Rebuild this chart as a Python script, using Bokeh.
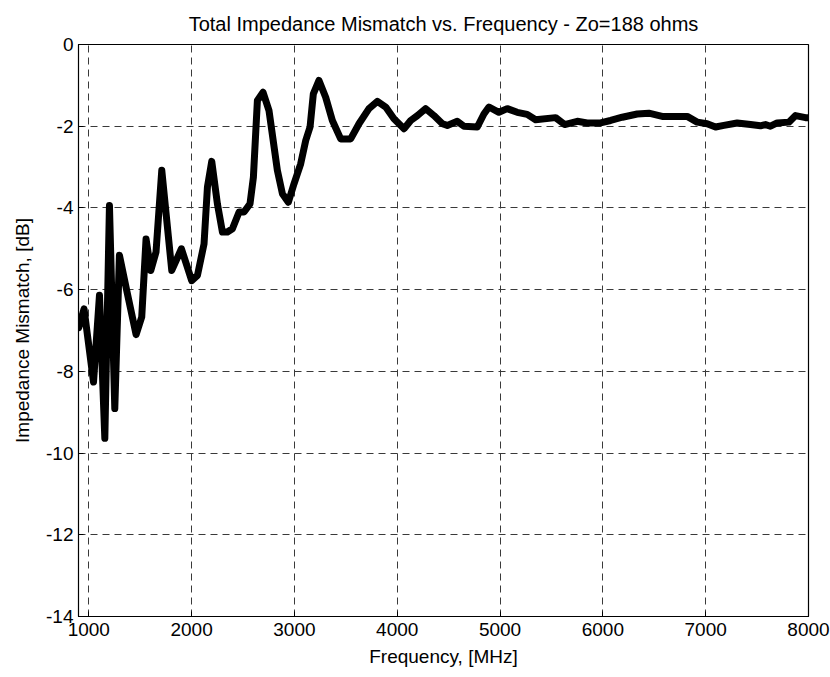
from bokeh.plotting import figure
from bokeh.models import Range1d, FixedTicker, Title, CustomJSTickFormatter
from bokeh.embed import file_html
from bokeh.resources import INLINE

# Frequency sweep, MHz
freq_mhz = [903, 954, 1046, 1104, 1156, 1201, 1253, 1298, 1369, 1460, 1515, 1557,
            1603, 1654, 1710, 1807, 1901, 2001, 2057, 2121, 2154, 2196, 2251, 2300,
            2348, 2397, 2462, 2510, 2568, 2601, 2640, 2695, 2753, 2834, 2883, 2941,
            2996, 3061, 3110, 3152, 3184, 3239, 3304, 3369, 3450, 3547, 3628, 3725,
            3807, 3888, 3968, 4066, 4131, 4196, 4276, 4357, 4439, 4487, 4584, 4649,
            4779, 4843, 4892, 4989, 5070, 5167, 5264, 5346, 5540, 5628, 5751, 5848,
            5978, 6075, 6189, 6334, 6447, 6577, 6820, 6917, 7014, 7096, 7177, 7306,
            7436, 7533, 7582, 7630, 7695, 7809, 7874, 7971, 8000]

# Total impedance mismatch, dB
mismatch_db = [-6.93, -6.47, -8.26, -6.14, -9.64, -3.94, -8.91, -5.16, -6.02, -7.10,
               -6.67, -4.76, -5.53, -5.08, -3.08, -5.53, -5.00, -5.78, -5.65, -4.88,
               -3.49, -2.86, -3.90, -4.59, -4.59, -4.51, -4.10, -4.10, -3.90, -3.25,
               -1.37, -1.17, -1.62, -3.08, -3.65, -3.86, -3.41, -2.92, -2.35, -2.02,
               -1.21, -0.88, -1.29, -1.86, -2.31, -2.31, -1.94, -1.57, -1.39, -1.53,
               -1.82, -2.06, -1.86, -1.74, -1.57, -1.74, -1.94, -1.98, -1.88, -2.00,
               -2.02, -1.70, -1.53, -1.66, -1.57, -1.66, -1.71, -1.84, -1.79, -1.96,
               -1.88, -1.92, -1.92, -1.86, -1.78, -1.70, -1.68, -1.76, -1.76, -1.90,
               -1.94, -2.02, -1.98, -1.92, -1.96, -1.99, -1.96, -2.00, -1.92, -1.90,
               -1.74, -1.79, -1.79]

x_ticks = [1000, 2000, 3000, 4000, 5000, 6000, 7000, 8000]
y_ticks = [0, -2, -4, -6, -8, -10, -12, -14]

FONT = "Liberation Sans"

p = figure(width=830, height=677, output_backend="svg", toolbar_location=None,
           x_range=Range1d(900, 8000), y_range=Range1d(-14, 0),
           min_border_left=78, min_border_right=22, min_border_top=44,
           min_border_bottom=61)

p.title = Title(text="Total Impedance Mismatch vs. Frequency - Zo=188 ohms",
                align="center", text_font=FONT, text_font_size="20px",
                text_font_style="normal", text_color="black", standoff=20)

p.background_fill_color = "white"
p.border_fill_color = "white"
p.outline_line_color = "black"
p.outline_line_width = 1.2

# plain ASCII hyphen for negative tick values
plain = CustomJSTickFormatter(code="return String(tick);")

p.xaxis.ticker = FixedTicker(ticks=x_ticks)
p.yaxis.ticker = FixedTicker(ticks=y_ticks)
p.xaxis.formatter = plain
p.yaxis.formatter = plain
p.xaxis.axis_label = "Frequency, [MHz]"
p.yaxis.axis_label = "Impedance Mismatch, [dB]"

for ax in (p.xaxis, p.yaxis):
    ax.axis_line_color = "black"
    ax.major_tick_in = 5
    ax.major_tick_out = 0
    ax.minor_tick_line_color = None
    ax.major_label_text_font = FONT
    ax.major_label_text_font_size = "19px"
    ax.major_label_text_color = "black"
    ax.axis_label_text_font = FONT
    ax.axis_label_text_font_size = "19px"
    ax.axis_label_text_font_style = "normal"
    ax.axis_label_text_color = "black"

p.xaxis.major_label_standoff = 6
p.xaxis.axis_label_standoff = 7
p.yaxis.major_label_standoff = 5
p.yaxis.axis_label_standoff = 10

for g in (p.xgrid, p.ygrid):
    g.grid_line_color = "#3a3a3a"
    g.grid_line_dash = "7 5"
    g.grid_line_width = 1

p.line(freq_mhz, mismatch_db, line_color="black", line_width=7,
       line_join="round", line_cap="round")

open("out.html", "w").write(file_html(p, INLINE))
